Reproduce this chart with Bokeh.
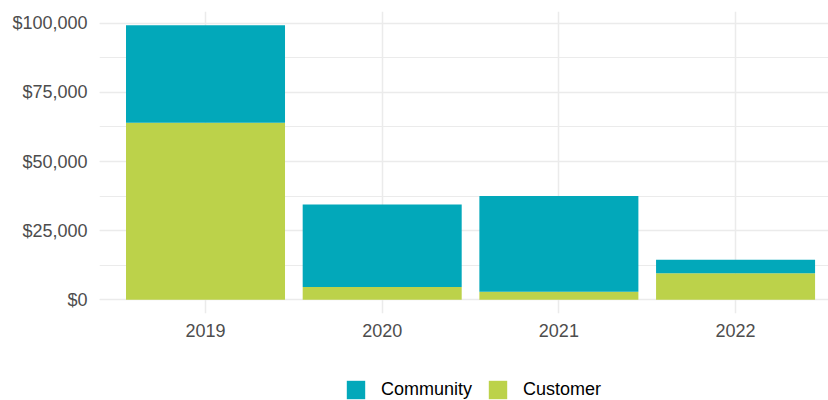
from bokeh.plotting import figure
from bokeh.layouts import column
from bokeh.models import (ColumnDataSource, Range1d, FixedTicker, SingleIntervalTicker,
                          NumeralTickFormatter, Legend, LegendItem)
from bokeh.embed import file_html
from bokeh.resources import INLINE

years = ["2019", "2020", "2021", "2022"]
community = [35300, 29900, 34600, 4900]
customer = [64000, 4600, 2900, 9600]
series_labels = ["Community", "Customer"]

COL_COMM = "#02A8BA"
COL_CUST = "#BCD24A"
GRID = "#EBEBEB"
TXT = "#4D4D4D"
FONT = "Liberation Sans"

xpos = list(range(1, len(years) + 1))
src = ColumnDataSource(dict(x=xpos, year=years, customer=customer, community=community))

totals = [a + b for a, b in zip(community, customer)]
ymax = max(totals)

p = figure(width=828, height=365, output_backend="svg", toolbar_location=None,
           x_range=Range1d(0.4, 4.526), y_range=Range1d(-0.05 * ymax, 1.05 * ymax),
           min_border_left=99, min_border_top=11, min_border_right=0, min_border_bottom=52)
p.outline_line_color = None
p.background_fill_color = "white"
p.border_fill_color = "white"

rs = p.vbar_stack(["customer", "community"], x="x", width=0.9, source=src,
                  color=[COL_CUST, COL_COMM], line_color=None)

# axes
p.xaxis.ticker = FixedTicker(ticks=xpos)
p.xaxis.major_label_overrides = {x: y for x, y in zip(xpos, years)}
p.yaxis.ticker = SingleIntervalTicker(interval=25000, num_minor_ticks=2)
p.yaxis.formatter = NumeralTickFormatter(format="$0,0")
for ax in (p.xaxis, p.yaxis):
    ax.axis_line_color = None
    ax.major_tick_line_color = None
    ax.minor_tick_line_color = None
    ax.major_tick_out = 0
    ax.minor_tick_out = 0
    ax.major_label_text_font = FONT
    ax.major_label_text_font_size = "18px"
    ax.major_label_text_color = TXT
p.yaxis.major_label_standoff = 12
p.xaxis.major_label_standoff = 10

p.xgrid.grid_line_color = GRID
p.xgrid.grid_line_width = 1.5
p.ygrid.grid_line_color = GRID
p.ygrid.grid_line_width = 1.5
p.ygrid.minor_grid_line_color = GRID
p.ygrid.minor_grid_line_width = 1

# legend strip below the plot (zero-height proxy bars carry the legend swatches)
q = figure(width=828, height=35, output_backend="svg", toolbar_location=None,
           x_axis_type=None, y_axis_type=None, x_range=Range1d(0, 1), y_range=Range1d(0, 1),
           min_border=0, min_border_left=0, min_border_right=0, min_border_top=0, min_border_bottom=0)
q.outline_line_color = None
q.grid.visible = False
q.background_fill_color = "white"
q.border_fill_color = "white"
proxy = ColumnDataSource(dict(x=[0.5], top=[0.0], bottom=[0.0]))
r_comm = q.vbar(x="x", top="top", bottom="bottom", width=0.01, source=proxy,
                fill_color=COL_COMM, line_color=None)
r_cust = q.vbar(x="x", top="top", bottom="bottom", width=0.01, source=proxy,
                fill_color=COL_CUST, line_color=None)
legend = Legend(items=[LegendItem(label=series_labels[0], renderers=[r_comm]),
                       LegendItem(label=series_labels[1], renderers=[r_cust])],
                orientation="horizontal", location=(245, -1),
                glyph_width=23, glyph_height=23, label_standoff=14, spacing=14,
                padding=0, margin=0, border_line_color=None, background_fill_alpha=0,
                label_text_font=FONT, label_text_font_size="18px", label_text_color="black")
q.add_layout(legend, "center")

layout = column(p, q, spacing=0)
open("out.html", "w").write(file_html(layout, INLINE))
